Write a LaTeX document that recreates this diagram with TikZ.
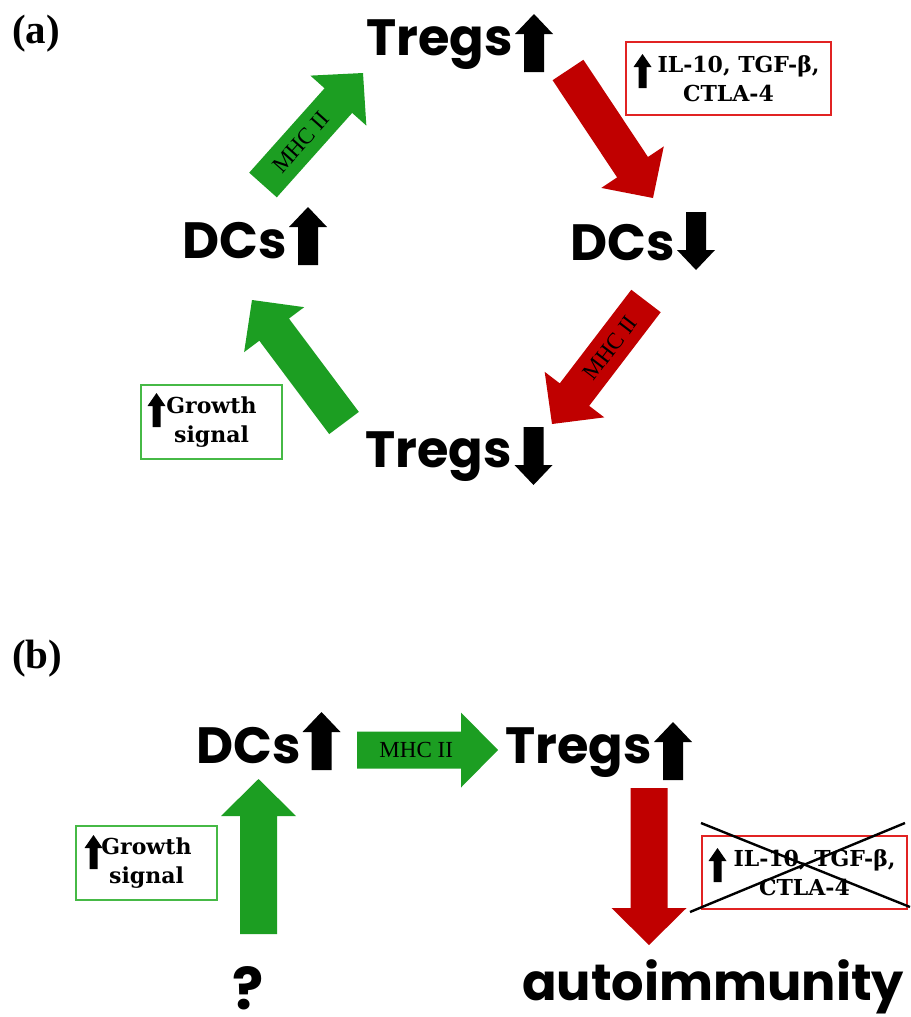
\documentclass[tikz,border=0pt]{standalone}
\usepackage{fontspec}
\setmainfont{Liberation Serif}
\newfontfamily\geofont{Poppins}
\newfontfamily\slabfont{DejaVu Serif}
\usetikzlibrary{calc}

\definecolor{grn}{RGB}{28,158,34}
\definecolor{rd}{RGB}{192,0,0}
\definecolor{boxred}{RGB}{225,35,35}
\definecolor{boxgrn}{RGB}{70,185,70}

\begin{document}
\begin{tikzpicture}[x=1pt,y=-1pt,
  cell/.style={inner sep=0pt, anchor=base east,
    font=\geofont\bfseries\fontsize{51}{51}\selectfont},
  panel/.style={inner sep=0pt, anchor=base west,
    font=\bfseries\fontsize{41}{41}\selectfont},
  mhc/.style={inner sep=0pt, font=\fontsize{23}{23}\selectfont},
  infobox/.style={draw=#1, line width=1.4pt, minimum width=141pt, minimum height=74pt,
    inner sep=0pt, align=center, font=\slabfont\bfseries\fontsize{22}{29}\selectfont},
  cytobox/.style={infobox=boxred, minimum width=205pt, minimum height=73pt},
  % thick block arrow from the start point to the tip
  block/.style={draw=none, fill=#1, to path={
    let \p1=(\tikztostart), \p2=(\tikztotarget),
        \n1={veclen(\x2-\x1,\y2-\y1)},
        \n2={(\x2-\x1)/\n1}, \n3={(\y2-\y1)/\n1}
    in ({\x1-18.5*(\n3)}, {\y1+18.5*(\n2)})
    -- ({\x1+(\n1-37)*(\n2)-18.5*(\n3)}, {\y1+(\n1-37)*(\n3)+18.5*(\n2)})
    -- ({\x1+(\n1-37)*(\n2)-37.5*(\n3)}, {\y1+(\n1-37)*(\n3)+37.5*(\n2)})
    -- (\x2,\y2)
    -- ({\x1+(\n1-37)*(\n2)+37.5*(\n3)}, {\y1+(\n1-37)*(\n3)-37.5*(\n2)})
    -- ({\x1+(\n1-37)*(\n2)+18.5*(\n3)}, {\y1+(\n1-37)*(\n3)-18.5*(\n2)})
    -- ({\x1+18.5*(\n3)}, {\y1-18.5*(\n2)})
    -- cycle}},
  pics/bigup/.style={code={\fill (-10,0) -- (-10,-38) -- (-19,-38) -- (0,-58)
    -- (19,-38) -- (10,-38) -- (10,0) -- cycle;}},
  pics/bigdown/.style={code={\fill (-10,0) -- (-10,38) -- (-19,38) -- (0,58)
    -- (19,38) -- (10,38) -- (10,0) -- cycle;}},
  pics/smallup/.style={code={\fill (-4,0) -- (-4,-21) -- (-9,-21) -- (0,-34)
    -- (9,-21) -- (4,-21) -- (4,0) -- cycle;}}
]
\useasboundingbox[fill=white] (0,0) rectangle (910,1017);

% ---------- panel (a): the feedback loop ----------
\node[panel] (la) at (12,43) {(a)};

\node[cell] (tregsA) at (513,55) {Tregs};
\pic at (534,72) {bigup};
\node[cell] (dcsUp) at (287,258) {DCs};
\pic at (308,265) {bigup};
\node[cell] (dcsDown) at (675,260) {DCs};
\pic at (696,212) {bigdown};
\node[cell] (tregsDown) at (512,467) {Tregs};
\pic at (533.5,427) {bigdown};

\node[cytobox] (cytA) at (728.5,78.5) {\hspace*{20pt}IL-10, TGF-β,\\CTLA-4};
\pic at (642.5,88) {smallup};
\node[infobox=boxgrn] (growA) at (211.5,422) {Growth\\signal};
\pic at (156.5,427) {smallup};

\coordinate (g1s) at (263,185);  \coordinate (g1e) at (363,73);
\coordinate (r1s) at (568,70);   \coordinate (r1e) at (653,198);
\coordinate (r2s) at (646,301);  \coordinate (r2e) at (552,424);
\coordinate (g2s) at (344,423);  \coordinate (g2e) at (252,300);

\path[block=grn] (g1s) to (g1e);
\path (g1s) -- node[mhc, pos=0.38, sloped] {MHC II} (g1e);
\path[block=rd] (r1s) to (r1e);
\path[block=rd] (r2s) to (r2e);
\path (r2s) -- node[mhc, pos=0.38, sloped] {MHC II} (r2e);
\path[block=grn] (g2s) to (g2e);

% ---------- panel (b): the broken loop ----------
\node[panel] (lb) at (12,668) {(b)};

\node[cell] (dcsB) at (301,763) {DCs};
\pic at (321.5,770) {bigup};
\node[cell] (tregsB) at (652,763) {Tregs};
\pic at (673,780) {bigup};

\coordinate (g3s) at (357,750);   \coordinate (g3e) at (498,750);
\path[block=grn] (g3s) to (g3e);
\path (g3s) -- node[mhc, pos=0.42] {MHC II} (g3e);

\coordinate (g4s) at (258.5,934); \coordinate (g4e) at (258.5,779);
\path[block=grn] (g4s) to (g4e);
\node[inner sep=0pt, anchor=base, font=\geofont\bfseries\fontsize{58}{58}\selectfont]
  (unknown) at (248,1009) {?};

\coordinate (r3s) at (649,788);   \coordinate (r3e) at (649,945);
\path[block=rd] (r3s) to (r3e);
\node[cell, anchor=base west] (auto) at (522,1000) {autoimmunity};

\node[infobox=boxgrn] (growB) at (146.5,863) {Growth\\signal};
\pic at (93.5,869) {smallup};

\node[cytobox] (cytB) at (804.5,872.5) {\hspace*{20pt}IL-10, TGF-β,\\CTLA-4};
\pic at (717.5,882) {smallup};
\coordinate (xa) at (701,823); \coordinate (xb) at (910,907);
\coordinate (xc) at (690,912); \coordinate (xd) at (905,823);
\draw[line width=2.4pt] (xa) -- (xb);
\draw[line width=2.4pt] (xc) -- (xd);
\end{tikzpicture}
\end{document}
